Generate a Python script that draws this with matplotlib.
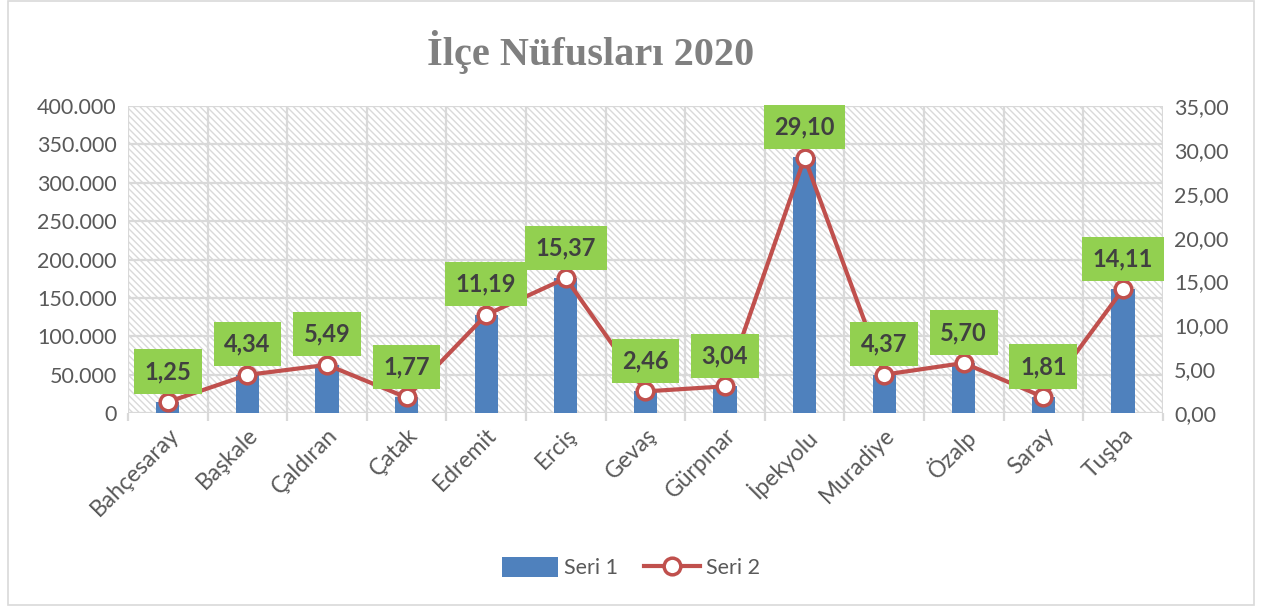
import matplotlib.pyplot as plt
from matplotlib.patches import Rectangle
from matplotlib.ticker import FuncFormatter, MultipleLocator

ilceler = ['Bahçesaray', 'Başkale', 'Çaldıran', 'Çatak', 'Edremit', 'Erciş', 'Gevaş',
           'Gürpınar', 'İpekyolu', 'Muradiye', 'Özalp', 'Saray', 'Tuşba']
seri1 = [14300, 49700, 62900, 20300, 128200, 176100, 28200,
         34800, 333500, 50100, 65300, 20700, 161700]
seri2 = [1.25, 4.34, 5.49, 1.77, 11.19, 15.37, 2.46, 3.04, 29.10, 4.37, 5.70, 1.81, 14.11]

plt.rcParams['font.family'] = ['Lato', 'DejaVu Sans']
plt.rcParams['hatch.linewidth'] = 1.0
plt.rcParams['hatch.color'] = '#d9d9d9'

grid_c = '#d9d9d9'
text_c = '#595959'

fig = plt.figure(figsize=(12.62, 6.06), dpi=100)
ax = fig.add_axes([0.1014, 0.3185, 0.82, 0.5065])
ax2 = ax.twinx()

x = list(range(len(ilceler)))

# hatched background
ax.add_patch(Rectangle((0, 0), 1, 1, transform=ax.transAxes, facecolor='white',
                       edgecolor=grid_c, hatch='\\\\\\\\\\', linewidth=0, zorder=0))

bars = ax.bar(x, seri1, width=0.29, color='#4f81bd', zorder=3, label='Seri 1')
ax.set_xlim(-0.5, len(ilceler) - 0.5)
ax.set_ylim(0, 400000)
ax.yaxis.set_major_locator(MultipleLocator(50000))
ax.yaxis.set_major_formatter(FuncFormatter(lambda v, p: f'{int(v):,}'.replace(',', '.')))

for v in range(0, 400001, 50000):
    ax.axhline(v, color=grid_c, lw=1.6, zorder=1)
for b in [i - 0.5 for i in range(len(ilceler) + 1)]:
    ax.axvline(b, color=grid_c, lw=1.6, zorder=1)

ax.set_xticks(x)
ax.set_xticklabels(ilceler, rotation=45, ha='right', rotation_mode='anchor',
                   fontsize=16.5, color=text_c)
ax.set_xticks([i - 0.5 for i in range(len(ilceler) + 1)], minor=True)
ax.tick_params(axis='x', which='major', length=0, pad=8)
ax.tick_params(axis='x', which='minor', length=6, color=grid_c, width=1.6)
ax.tick_params(axis='y', length=0, labelsize=15.5, labelcolor=text_c, pad=8)
for s in ax.spines.values():
    s.set_visible(False)

line, = ax2.plot(x, seri2, color='#c0504d', lw=3, marker='o', markersize=12,
                 markerfacecolor='white', markeredgecolor='#c0504d',
                 markeredgewidth=2.5, zorder=4, label='Seri 2')
ax2.set_ylim(0, 35)
ax2.yaxis.set_major_locator(MultipleLocator(5))
ax2.yaxis.set_major_formatter(FuncFormatter(lambda v, p: f'{v:.2f}'.replace('.', ',')))
ax2.tick_params(axis='y', length=0, labelsize=15.5, labelcolor=text_c, pad=8)
for s in ax2.spines.values():
    s.set_visible(False)

for xi, v in zip(x, seri2):
    ax2.annotate(f'{v:.2f}'.replace('.', ','), (xi, v), xytext=(0, 22),
                 textcoords='offset points', ha='center', va='center',
                 fontsize=17, fontweight='bold', color='#404040', zorder=6,
                 bbox=dict(boxstyle='square,pad=0.45', facecolor='#92d050',
                           edgecolor='none'))

fig.text(0.468, 0.915, 'İlçe Nüfusları 2020', ha='center', va='center', fontsize=29,
         fontweight='bold', color='#808080', family='Liberation Serif')

fig.legend(handles=[bars, line], labels=['Seri 1', 'Seri 2'], loc='center',
           bbox_to_anchor=(0.5, 0.063), ncol=2, frameon=False, fontsize=15.5,
           labelcolor=text_c, handlelength=2.6, handleheight=1.0,
           handletextpad=0.3, columnspacing=1.2)

fig.patches.append(Rectangle((0.006, 0.002), 0.988, 0.996, transform=fig.transFigure,
                             fill=False, edgecolor=grid_c, linewidth=1.2))

fig.savefig('out.png', dpi=100)
